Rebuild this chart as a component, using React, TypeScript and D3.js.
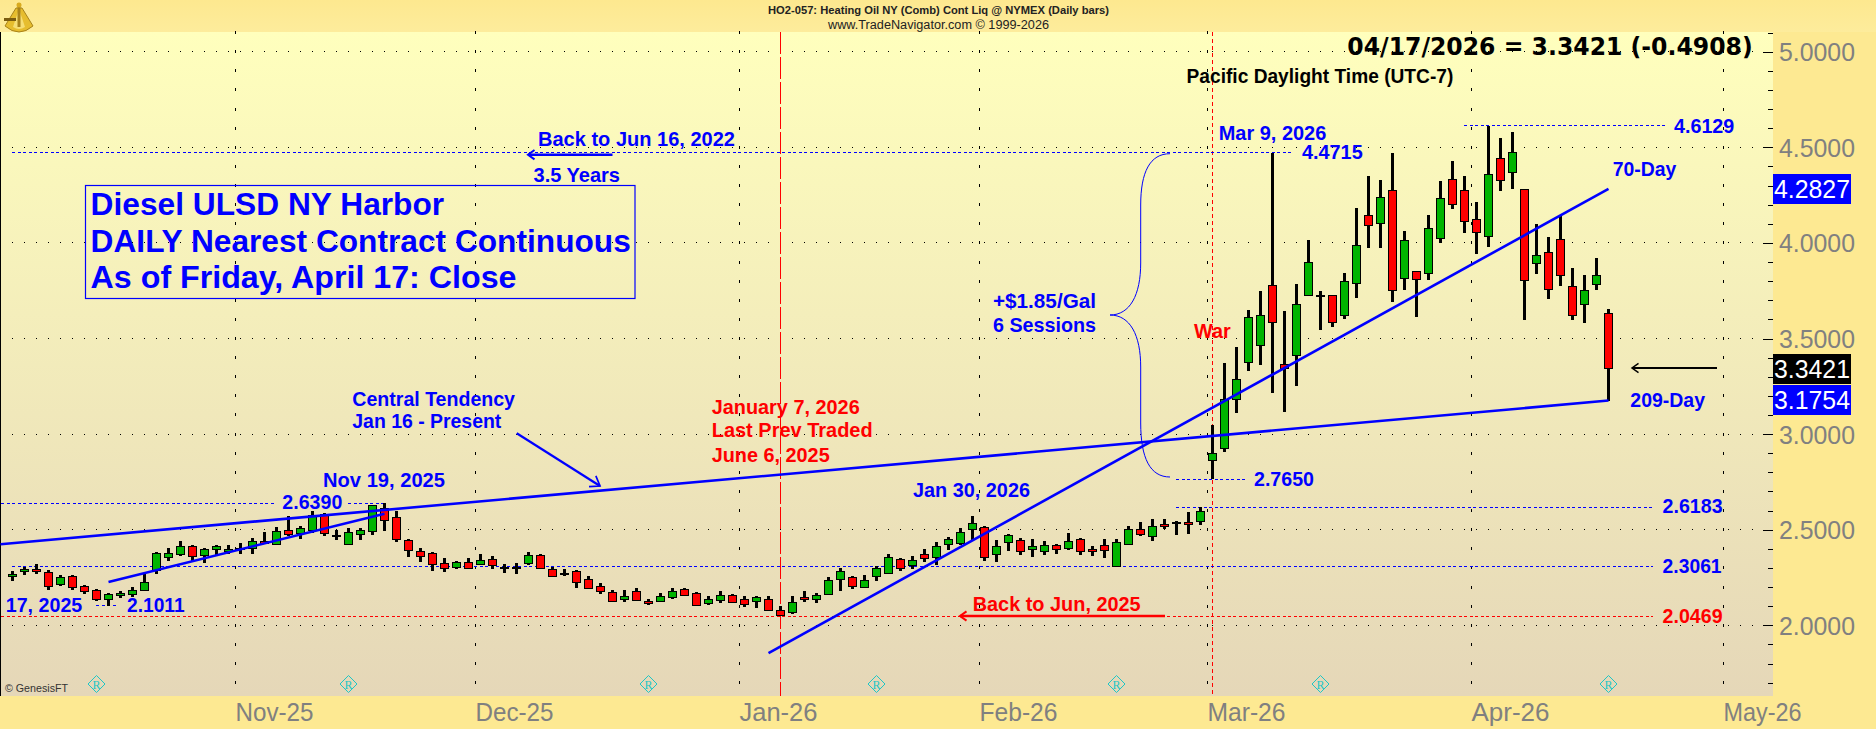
import React from "react";
import * as d3 from "d3";

const opens = [
  2.256,2.284,2.293,2.277,2.213,2.256,2.204,2.183,2.136,2.162,
  2.166,2.187,2.288,2.359,2.371,2.417,2.364,2.397,2.392,2.404,
  2.408,2.443,2.429,2.500,2.486,2.497,2.580,2.471,2.424,2.476,
  2.492,2.615,2.568,2.448,2.387,2.376,2.328,2.309,2.333,2.319,
  2.345,2.305,2.303,2.324,2.366,2.296,2.275,2.286,2.244,2.207,
  2.176,2.136,2.181,2.129,2.125,2.152,2.188,2.171,2.115,2.131,
  2.160,2.139,2.125,2.139,2.082,2.068,2.146,2.136,2.167,2.242,
  2.254,2.202,2.256,2.277,2.345,2.312,2.371,2.356,2.424,2.427,
  2.500,2.516,2.371,2.434,2.448,2.399,2.387,2.422,2.403,2.453,
  2.397,2.418,2.309,2.429,2.505,2.471,2.528,2.538,2.539,2.544,
  2.863,2.931,3.187,3.375,3.464,3.778,3.365,3.412,3.726,3.726,
  3.726,3.621,3.788,4.144,4.102,4.275,3.814,3.851,3.841,4.024,
  4.332,4.275,4.123,4.034,4.442,4.369,4.280,3.893,3.950,4.018,
  3.773,3.679,3.783,3.631,
];
const highs = [
  2.282,2.303,2.319,2.289,2.261,2.263,2.211,2.190,2.167,2.178,
  2.202,2.275,2.382,2.403,2.439,2.420,2.404,2.418,2.418,2.429,
  2.455,2.488,2.516,2.572,2.518,2.596,2.586,2.500,2.509,2.511,
  2.631,2.639,2.596,2.450,2.403,2.383,2.350,2.336,2.350,2.373,
  2.361,2.321,2.324,2.383,2.371,2.305,2.293,2.289,2.256,2.221,
  2.183,2.183,2.193,2.138,2.167,2.193,2.193,2.173,2.152,2.178,
  2.164,2.152,2.152,2.152,2.099,2.152,2.178,2.167,2.251,2.298,
  2.258,2.261,2.310,2.371,2.350,2.361,2.397,2.434,2.464,2.509,
  2.570,2.518,2.444,2.476,2.455,2.450,2.439,2.425,2.481,2.455,
  2.417,2.450,2.450,2.518,2.539,2.554,2.554,2.544,2.591,2.6183,
  3.046,3.370,3.454,3.647,3.746,4.4715,3.642,3.783,4.013,3.746,
  3.726,3.841,4.180,4.348,4.327,4.468,4.060,3.851,4.144,4.322,
  4.426,4.348,4.212,4.6129,4.547,4.578,4.280,4.097,4.029,4.144,
  3.867,3.830,3.919,3.652,
];
const lows = [
  2.234,2.265,2.270,2.185,2.206,2.185,2.164,2.129,2.1011,2.143,
  2.146,2.181,2.268,2.336,2.363,2.333,2.326,2.363,2.375,2.375,
  2.373,2.427,2.425,2.467,2.451,2.485,2.467,2.446,2.420,2.446,
  2.472,2.493,2.436,2.357,2.333,2.286,2.281,2.296,2.296,2.315,
  2.296,2.275,2.270,2.315,2.296,2.254,2.258,2.197,2.192,2.166,
  2.125,2.124,2.129,2.108,2.120,2.139,2.152,2.105,2.108,2.119,
  2.119,2.098,2.091,2.077,2.0469,2.061,2.124,2.119,2.160,2.181,
  2.192,2.197,2.234,2.275,2.286,2.296,2.333,2.315,2.394,2.422,
  2.446,2.338,2.333,2.390,2.369,2.359,2.369,2.375,2.396,2.369,
  2.364,2.354,2.3061,2.422,2.469,2.443,2.502,2.474,2.479,2.525,
  2.765,2.908,3.112,3.332,3.363,3.217,3.117,3.253,3.726,3.546,
  3.562,3.604,3.713,3.975,3.975,3.692,3.755,3.614,3.807,3.997,
  4.179,4.053,3.943,3.980,4.273,4.283,3.598,3.839,3.708,3.776,
  3.598,3.583,3.755,3.1754,
];
const closes = [
  2.267,2.295,2.282,2.202,2.251,2.197,2.178,2.136,2.162,2.171,
  2.187,2.228,2.376,2.380,2.413,2.366,2.397,2.413,2.401,2.404,
  2.443,2.434,2.495,2.481,2.511,2.575,2.481,2.471,2.486,2.497,
  2.627,2.553,2.455,2.397,2.363,2.317,2.303,2.333,2.303,2.340,
  2.312,2.305,2.303,2.366,2.298,2.261,2.275,2.230,2.197,2.183,
  2.131,2.152,2.136,2.120,2.152,2.181,2.157,2.110,2.136,2.157,
  2.125,2.115,2.146,2.084,2.058,2.120,2.136,2.157,2.239,2.282,
  2.209,2.239,2.298,2.359,2.300,2.340,2.350,2.413,2.450,2.486,
  2.533,2.361,2.413,2.471,2.392,2.413,2.418,2.403,2.439,2.392,
  2.387,2.392,2.434,2.505,2.481,2.521,2.518,2.538,2.530,2.596,
  2.899,3.185,3.290,3.611,3.621,3.584,3.342,3.679,3.898,3.726,
  3.584,3.799,3.987,4.092,4.238,3.752,4.013,3.809,4.076,4.233,
  4.201,4.113,4.055,4.358,4.327,4.473,3.804,3.935,3.757,3.830,
  3.621,3.752,3.830,3.3421,
];

const yTickLabels = ["5.0000", "4.5000", "4.0000", "3.5000", "3.0000", "2.5000", "2.0000"];
const monthLabels = ["Nov-25", "Dec-25", "Jan-26", "Feb-26", "Mar-26", "Apr-26", "May-26"];
const monthBarIndex = [18.5, 38.5, 60.5, 80.5, 99.5, 121.5, 142.5];
const rolloverBars = [7, 28, 53, 72, 92, 109, 133];
const tenths = d3.range(16, 52).map((d) => d / 10);

// [start bar, start price, end bar, end price]
const trendCentral = [[-1, 2.424], [133, 3.1754]];
const trend70Day = [[63, 1.855], [133, 4.2827]];
const trendEarly = [[8, 2.226], [31, 2.584]];

const BLUE = "#0000ff";
const RED = "#ff0000";
const FONT = "'Liberation Sans', Arial, sans-serif";

const x = d3.scaleLinear().domain([0, 133]).range([12.5, 1608.5]);
const y = d3.scaleLinear().domain([2, 5]).range([625.3, 51.7]);
const trendPath = d3.line<number[]>().x((d) => x(d[0])).y((d) => y(d[1]));

function T({ tx, ty, w, s = 19.8, c = BLUE, b = true, f = FONT, children }: any) {
  return (
    <text
      x={tx}
      y={ty}
      fontFamily={f}
      fontSize={s}
      fontWeight={b ? 700 : 400}
      fill={c}
      textLength={w}
      lengthAdjust={w ? "spacingAndGlyphs" : undefined}
    >
      {children}
    </text>
  );
}

function HL({ v, a, b, c = BLUE }: any) {
  return <line x1={a} x2={b} y1={y(v)} y2={y(v)} stroke={c} strokeWidth={1} strokeDasharray="3 2.5" shapeRendering="crispEdges" />;
}

function Arrow({ x1, y1, x2, y2, c, sw = 2.5, head = 8 }: any) {
  const a = Math.atan2(y1 - y2, x1 - x2);
  const p = (t: number) => [x2 + head * Math.cos(a + t), y2 + head * Math.sin(a + t)];
  const [ax, ay] = p(0.62);
  const [bx, by] = p(-0.62);
  return (
    <g stroke={c} fill="none" strokeWidth={sw}>
      <line x1={x1} y1={y1} x2={x2} y2={y2} />
      <polyline points={`${ax},${ay} ${x2},${y2} ${bx},${by}`} strokeWidth={Math.max(1.5, sw - 0.5)} />
    </g>
  );
}

export default function App() {
  return (
    <svg width={1876} height={729} style={{ position: "fixed", left: 0, top: 0, display: "block" }}>
      <defs>
        <linearGradient id="plot" x1="0" x2="0" y1="0" y2="1">
          <stop offset="0" stopColor="#ffffbd" />
          <stop offset="1" stopColor="#e5d7b8" />
        </linearGradient>
        <linearGradient id="band" x1="0" x2="0" y1="0" y2="1">
          <stop offset="0" stopColor="#fde88f" />
          <stop offset="1" stopColor="#fdec9c" />
        </linearGradient>
      </defs>
      <rect width={1876} height={729} fill="#fde992" />
      <rect width={1876} height={32} fill="url(#band)" />
      <rect x={0} y={32} width={1773} height={664} fill="url(#plot)" />
      <rect x={0} y={32} width={1} height={664} fill="#000" />

      {/* logo */}
      <g>
        <path d="M16 8 L22 8 L33 26 Q19 38 5 26 Z" fill="#e6bd2e" stroke="#a8831a" strokeWidth={1} />
        <path d="M19 9 L13 27 Q19 31 25 27 Z" fill="#f6de74" />
        <rect x={4} y={18} width={12} height={3} fill="#7a5c10" />
        <rect x={17.5} y={3} width={3} height={24} fill="#a8831a" />
        <circle cx={19} cy={5} r={2.5} fill="#d9ab20" />
      </g>

      {/* horizontal dotted price grid */}
      {yTickLabels.map((t) => (
        <line key={t} x1={12} x2={1763} y1={y(+t)} y2={y(+t)} stroke="#000" strokeWidth={1} strokeDasharray="1 11" shapeRendering="crispEdges" />
      ))}
      {/* vertical month grid */}
      {monthBarIndex.map((m) =>
        tenths.map((t) => {
          if (y(t) > 696 || y(t) < 31) return null;
          return <rect key={`${m}-${t}`} x={Math.round(x(m))} y={y(t) - 1.5} width={1} height={3} fill="#000" shapeRendering="crispEdges" />;
        })
      )}
      {/* y axis ticks */}
      {tenths.map((t) => {
        if (y(t) > 696 || y(t) < 31) return null;
        const major = Math.abs(t * 2 - Math.round(t * 2)) < 1e-6;
        return <rect key={t} x={major ? 1763 : 1768} y={Math.round(y(t))} width={major ? 10 : 5} height={1} fill="#000" shapeRendering="crispEdges" />;
      })}

      {/* vertical event lines */}
      <line x1={x(64)} x2={x(64)} y1={32} y2={696} stroke={RED} strokeWidth={1} strokeDasharray="22 3" shapeRendering="crispEdges" />
      <line x1={x(100)} x2={x(100)} y1={32} y2={696} stroke={RED} strokeWidth={1} strokeDasharray="4 3" shapeRendering="crispEdges" />

      {/* price level lines */}
      <HL v={4.6129} a={1464} b={1665} />
      <HL v={4.4715} a={12} b={1294} />
      <HL v={2.765} a={1176} b={1245} />
      <HL v={2.639} a={1} b={274} />
      <HL v={2.639} a={348} b={384} />
      <HL v={2.6183} a={1176} b={1653} />
      <HL v={2.3061} a={12} b={1653} />
      <HL v={2.1011} a={96} b={117} />
      <HL v={2.0469} a={1} b={1653} c={RED} />

      {/* candles */}
      <g shapeRendering="crispEdges">
        {opens.map((o, i) => {
          const c = closes[i];
          const top = y(Math.max(o, c));
          const bot = y(Math.min(o, c));
          const cx = x(i);
          return (
            <g key={i}>
              <rect x={cx - 1.5} y={y(highs[i])} width={3} height={y(lows[i]) - y(highs[i])} fill="#000" />
              <rect
                x={cx - 4}
                y={Math.round(top) + 0.5}
                width={8}
                height={Math.max(1, Math.round(bot - top))}
                fill={c === o ? "#000" : c > o ? "#00b400" : RED}
                stroke="#000"
                strokeWidth={1}
              />
            </g>
          );
        })}
      </g>

      {/* trend lines */}
      <g fill="none" stroke={BLUE} strokeWidth={2.6}>
        <path d={trendPath(trendCentral as number[][]) || ""} />
        <path d={trendPath(trend70Day as number[][]) || ""} />
        <path d={trendPath(trendEarly as number[][]) || ""} />
      </g>

      {/* brace */}
      <path
        d="M1170 153.7 C1150 153.7 1140.7 172 1140.7 205 L1140.7 263 C1140.7 295 1130 315 1110 315 C1130 315 1140.7 335 1140.7 367 L1140.7 423 C1140.7 458 1150 477 1170 477"
        fill="none"
        stroke={BLUE}
        strokeWidth={1}
      />

      {/* arrows */}
      <Arrow x1={612.5} y1={154.7} x2={528} y2={154.7} c={BLUE} sw={2.5} />
      <Arrow x1={516.7} y1={433.3} x2={600} y2={486} c={BLUE} sw={2.2} head={11} />
      <Arrow x1={1165} y1={616} x2={960} y2={616} c={RED} sw={2.5} />
      <Arrow x1={1717} y1={368} x2={1632} y2={368} c="#000" sw={2} />

      {/* R markers */}
      {rolloverBars.map((b) => (
        <g key={b}>
          <polygon
            points={`${x(b)},675.5 ${x(b) + 8.5},684 ${x(b)},692.5 ${x(b) - 8.5},684`}
            fill="none"
            stroke="#1fc6c6"
            strokeWidth={1}
          />
          <text x={x(b)} y={688.5} textAnchor="middle" fontSize={12} fontFamily="'Liberation Serif', serif" fill="#1fc6c6">R</text>
        </g>
      ))}

      {/* title box */}
      <rect x={85.5} y={185.5} width={549.5} height={113} fill="none" stroke={BLUE} strokeWidth={1.2} />
      <T tx={90.6} ty={215} w={353.6} s={31}>Diesel ULSD NY Harbor</T>
      <T tx={90.6} ty={251.7} w={540.2} s={31}>DAILY Nearest Contract Continuous</T>
      <T tx={90.6} ty={288.3} w={425.9} s={31}>As of Friday, April 17: Close</T>

      {/* header */}
      <T tx={768} ty={13.5} w={341} s={11.5} c="#222">HO2-057:  Heating Oil NY (Comb) Cont Liq @ NYMEX  (Daily bars)</T>
      <T tx={828} ty={29} w={221} s={12.5} c="#222" b={false}>www.TradeNavigator.com © 1999-2026</T>
      <T tx={1347.3} ty={54.7} w={405.4} s={24} c="#000" f="'DejaVu Sans', sans-serif">04/17/2026 = 3.3421 (-0.4908)</T>
      <T tx={1186.6} ty={83.3} w={266.7} s={19.5} c="#000">Pacific Daylight Time (UTC-7)</T>

      {/* blue annotations */}
      <T tx={538} ty={145.7} w={197}>Back to Jun 16, 2022</T>
      <T tx={533.5} ty={181.7} w={86.5}>3.5 Years</T>
      <T tx={1218.7} ty={140} w={107.6}>Mar 9, 2026</T>
      <T tx={1302} ty={159.3} w={60.7}>4.4715</T>
      <T tx={1674} ty={132.7} w={60.3}>4.6129</T>
      <T tx={1612.7} ty={175.7} w={63.6}>70-Day</T>
      <T tx={1630.3} ty={407.3} w={74.7}>209-Day</T>
      <T tx={993} ty={307.5} w={103}>+$1.85/Gal</T>
      <T tx={993} ty={332} w={103}>6 Sessions</T>
      <T tx={1254} ty={486} w={60}>2.7650</T>
      <T tx={352.3} ty={406} w={162.7}>Central Tendency</T>
      <T tx={352.3} ty={428.3} w={149}>Jan 16 - Present</T>
      <T tx={323} ty={486.7} w={122}>Nov 19, 2025</T>
      <T tx={282.3} ty={509.3} w={60}>2.6390</T>
      <T tx={913} ty={496.7} w={117}>Jan 30, 2026</T>
      <T tx={5.7} ty={611.7} w={76.6}>17, 2025</T>
      <T tx={127} ty={611.7} w={57.6}>2.1011</T>
      <T tx={1662.6} ty={513.3} w={60}>2.6183</T>
      <T tx={1662.6} ty={572.7} w={59}>2.3061</T>

      {/* red annotations */}
      <T tx={711.7} ty={414} w={148} c={RED}>January 7, 2026</T>
      <T tx={711.7} ty={437.3} w={161} c={RED}>Last Prev Traded</T>
      <T tx={711.7} ty={461.7} w={118} c={RED}>June 6, 2025</T>
      <T tx={1194} ty={338.3} w={36.7} c={RED}>War</T>
      <T tx={972.7} ty={610.7} w={168} c={RED}>Back to Jun, 2025</T>
      <T tx={1662.6} ty={622.7} w={60} c={RED}>2.0469</T>

      <T tx={5} ty={692} w={63} s={11} c="#333" b={false}>© GenesisFT</T>

      {/* y axis labels */}
      {yTickLabels.map((t) => (
        <T key={t} tx={1779} ty={y(+t) + 9.5} w={76} s={25} c="#808080" b={false}>{t}</T>
      ))}
      {/* x axis labels */}
      {monthLabels.map((m, i) => (
        <T key={m} tx={x(monthBarIndex[i]) + 1} ty={720.7} w={78} s={25} c="#808080" b={false}>{m}</T>
      ))}

      {/* last-value flags */}
      <rect x={1773} y={174} width={78} height={30} fill={BLUE} />
      <T tx={1774} ty={198} w={76} s={25} c="#fff" b={false}>4.2827</T>
      <rect x={1773} y={354} width={78} height={30} fill="#000" />
      <T tx={1774} ty={378} w={76} s={25} c="#fff" b={false}>3.3421</T>
      <rect x={1773} y={385} width={78} height={30} fill={BLUE} />
      <T tx={1774} ty={409} w={76} s={25} c="#fff" b={false}>3.1754</T>
    </svg>
  );
}
